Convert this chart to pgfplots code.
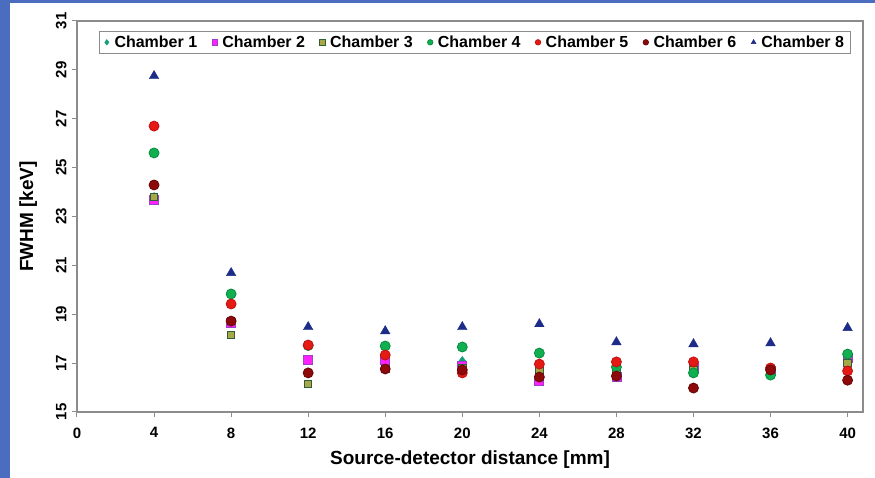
\documentclass[border=0pt]{standalone}
\usepackage{fontspec}
\setmainfont{Liberation Sans}
\usepackage{pgfplots}
\pgfplotsset{compat=1.18}

\definecolor{slideblue}{HTML}{4A6DC0}
\definecolor{axisgray}{HTML}{8C8C8C}
\definecolor{chone}{HTML}{12A07A}
\definecolor{chtwo}{HTML}{FF22FF}
\definecolor{chtwoedge}{HTML}{9A3FC8}
\definecolor{chthree}{HTML}{A8A848}
\definecolor{chthreeedge}{HTML}{2E5E3A}
\definecolor{chfour}{HTML}{10B050}
\definecolor{chfouredge}{HTML}{0A8A40}
\definecolor{chfive}{HTML}{E61A14}
\definecolor{chfiveedge}{HTML}{C01010}
\definecolor{chsix}{HTML}{8E0A0A}
\definecolor{chsixedge}{HTML}{650606}
\definecolor{cheight}{HTML}{1C2C88}

\begin{document}
\begin{tikzpicture}[x=1pt,y=1pt]
\fill[slideblue] (0,0) rectangle (875,478);
\fill[white] (10,0) rectangle (875,475);
\useasboundingbox (0,0) rectangle (875,478);
\begin{axis}[
    at={(77pt,66pt)}, anchor=south west,
    scale only axis,
    width=786pt, height=391pt,
    xmin=0, xmax=40.8,
    ymin=15, ymax=31,
    xtick={0,4,...,40},
    ytick={15,17,...,31},
    xtick pos=bottom, ytick pos=left,
    tick align=outside,
    major tick length=5pt,
    axis line style={draw=axisgray, line width=1.3pt},
    tick style={draw=axisgray, line width=1pt},
    /pgf/number format/assume math mode=true,
    ticklabel style={font=\fontsize{15}{17}\selectfont\bfseries},
    xticklabel style={yshift=-7pt},
    yticklabel style={rotate=90, anchor=south, yshift=2pt},
    xlabel={Source-detector distance [mm]},
    ylabel={FWHM [keV]},
    label style={font=\fontsize{19}{21}\selectfont\bfseries},
    xlabel style={yshift=-6pt},
    ylabel style={yshift=12pt},
    only marks,
    legend columns=7,
    legend style={at={(0.506,0.975)}, anchor=north,
        draw=axisgray, line width=1pt,
        font=\fontsize{16}{18}\selectfont\bfseries,
        inner ysep=2.5pt, inner xsep=4pt,
        /tikz/every even column/.append style={column sep=12pt}},
    legend image code/.code={\path[draw=none, fill=none] (-0.02cm,0cm) rectangle (0.3cm,0cm);
        \draw[mark size=2.7pt, line width=0.6pt] plot coordinates {(0.1cm,0cm)};},
]
\addplot[mark=diamond*, mark size=4.5pt, mark options={fill=chone, draw=chone}] coordinates {
    (4,23.8) (8,18.7) (12,16.6) (16,16.9) (20,17.09) (24,16.76) (28,16.76) (32,16.76) (36,16.64) (40,17.2)
};
\addlegendentry{Chamber 1}
\addplot[mark=square*, mark size=4.5pt, mark options={fill=chtwo, draw=chtwoedge, line width=0.8pt}] coordinates {
    (4,23.67) (8,18.64) (12,17.13) (16,17.13) (20,16.88) (24,16.27) (28,16.43) (32,16.8) (36,16.68) (40,17.2)
};
\addlegendentry{Chamber 2}
\addplot[mark=square*, mark size=3.8pt, mark options={fill=chthree, draw=chthreeedge, line width=1pt}] coordinates {
    (4,23.8) (8,18.15) (12,16.15) (16,16.76) (20,16.8) (24,16.68) (28,16.7) (32,16.72) (36,16.64) (40,17.0)
};
\addlegendentry{Chamber 3}
\addplot[mark=*, mark size=5pt, mark options={fill=chfour, draw=chfouredge, line width=0.8pt}] coordinates {
    (4,25.6) (8,19.83) (12,17.72) (16,17.7) (20,17.66) (24,17.41) (28,16.84) (32,16.6) (36,16.51) (40,17.37)
};
\addlegendentry{Chamber 4}
\addplot[mark=*, mark size=5pt, mark options={fill=chfive, draw=chfiveedge, line width=0.8pt}] coordinates {
    (4,26.7) (8,19.42) (12,17.74) (16,17.33) (20,16.6) (24,16.96) (28,17.05) (32,17.05) (36,16.8) (40,16.68)
};
\addlegendentry{Chamber 5}
\addplot[mark=*, mark size=5pt, mark options={fill=chsix, draw=chsixedge, line width=0.8pt}] coordinates {
    (4,24.29) (8,18.72) (12,16.6) (16,16.76) (20,16.72) (24,16.43) (28,16.47) (32,15.98) (36,16.72) (40,16.3)
};
\addlegendentry{Chamber 6}
\addplot[mark=triangle*, mark size=5.5pt, mark options={fill=cheight, draw=cheight}] coordinates {
    (4,28.75) (8,20.69) (12,18.48) (16,18.31) (20,18.48) (24,18.6) (28,17.86) (32,17.78) (36,17.82) (40,18.44)
};
\addlegendentry{Chamber 8}
\end{axis}
\end{tikzpicture}
\end{document}
